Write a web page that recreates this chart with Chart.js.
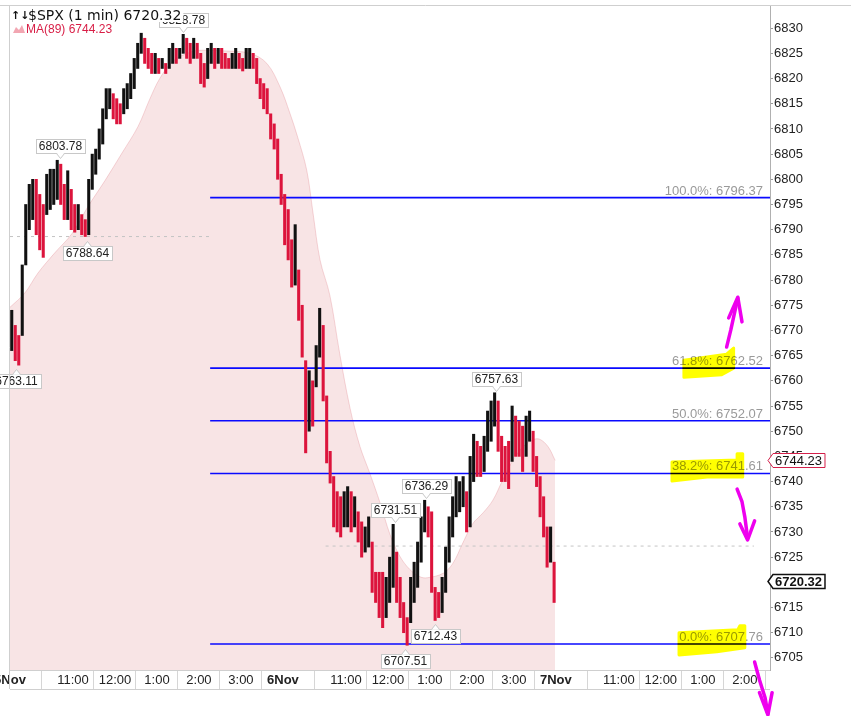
<!DOCTYPE html>
<html>
<head>
<meta charset="utf-8">
<script src="https://cdn.jsdelivr.net/npm/chart.js@4.4.1/dist/chart.umd.min.js"></script>
<style>
  html, body { margin: 0; padding: 0; background: #fff; }
  #wrap { width: 851px; height: 716px; position: relative; }
</style>
</head>
<body>
<div id="wrap"><canvas id="chart"></canvas></div>
<script>
// ─── Data (1-min $SPX, grouped into 5-minute bars) ─────────────────
const BUCKET = 5;
const highs = [
  6774, 6771, 6769, 6783, 6795, 6799, 6800, 6800, 6797, 6795,
  6801, 6802, 6802, 6803.78, 6803, 6799, 6801.7, 6798, 6795, 6795,
  6793, 6792, 6800, 6805, 6806, 6810, 6814, 6818, 6818, 6817,
  6816, 6815, 6818, 6819, 6821, 6824, 6827, 6829, 6828, 6826,
  6825, 6825, 6824, 6824, 6823, 6826, 6827, 6826, 6826, 6828.78,
  6828, 6827, 6828, 6827, 6825, 6823, 6826, 6827, 6826, 6826,
  6826, 6825, 6824, 6825, 6826, 6825, 6824, 6826, 6826, 6825,
  6824, 6820, 6819, 6818, 6813, 6811, 6808, 6801,
  6797, 6794, 6788, 6791, 6782, 6775, 6764, 6762, 6760, 6767,
  6774.4, 6771, 6757, 6746, 6741, 6738, 6737, 6738, 6739, 6738,
  6737, 6734, 6732, 6731, 6733, 6728, 6722, 6722, 6722, 6721,
  6725, 6731.51, 6726, 6721, 6716, 6713, 6721, 6724, 6728, 6733,
  6736.29, 6735, 6734, 6719, 6718, 6721, 6727, 6733, 6737, 6741,
  6740, 6741, 6738, 6745, 6749.4, 6748, 6747, 6749, 6754, 6756,
  6757.63, 6756, 6749, 6747, 6748, 6755, 6753, 6752, 6751, 6753,
  6754, 6750, 6745, 6741, 6737, 6731, 6731, 6724
];
const lows = [
  6766, 6764, 6763.11, 6769, 6783, 6790, 6792, 6789, 6786, 6784.5,
  6793, 6794, 6795, 6796, 6795, 6792, 6792, 6790, 6789.5, 6790,
  6789, 6788.64, 6789, 6798, 6801, 6804, 6807, 6812, 6814, 6812,
  6811, 6811, 6813, 6814, 6816, 6818, 6822, 6825, 6823, 6822,
  6821, 6821, 6821, 6822, 6821, 6822, 6823, 6823, 6824, 6825,
  6824, 6823, 6824, 6824, 6819, 6818.3, 6820, 6823, 6822, 6823,
  6822, 6822, 6822, 6822, 6822, 6822, 6821.5, 6822, 6822, 6822,
  6819, 6816, 6814, 6813, 6808, 6806, 6800, 6795,
  6787, 6784, 6778.6, 6779, 6772, 6764.7, 6745.7, 6750, 6751, 6758.8,
  6764.7, 6756, 6743.7, 6739.7, 6731, 6730, 6729, 6731, 6731, 6730,
  6731, 6728, 6725, 6726, 6727, 6718, 6716, 6713, 6711, 6713,
  6716, 6719, 6716, 6713, 6710, 6707.51, 6712, 6716, 6719, 6724,
  6730, 6729, 6718, 6712.43, 6713, 6714, 6718, 6724, 6729, 6733,
  6734, 6735, 6730, 6731, 6740, 6741, 6741, 6742, 6746, 6748,
  6751, 6746, 6740, 6740, 6738.6, 6744, 6745, 6745, 6742, 6745,
  6748, 6742, 6739, 6733, 6729, 6723, 6724, 6716
];
const lastClose = 6720.32;

const maTimes  = [0, 21, 40, 64, 89, 111, 136, 160, 183, 200, 214, 233, 257, 271, 304, 343, 367, 386, 400, 411,
                  424, 433, 443, 457, 471, 486, 500, 514, 529, 543, 557, 571, 586, 596, 619, 633, 647, 661, 676, 690,
                  704, 719, 733, 747, 757, 769, 779];
const maValues = [6774.6, 6777.4, 6781.4, 6785.4, 6789.3, 6794.5, 6799.8, 6805.2, 6810.5, 6816, 6820, 6823.5, 6825.2, 6825.6, 6825.5, 6825, 6823, 6818.3, 6813.1, 6808.4,
                  6801.8, 6793.3, 6784, 6777, 6765.5, 6754.5, 6747, 6741.7, 6735.7, 6729.5, 6725.2, 6722.6, 6721.1, 6720.9, 6721.8, 6723.8, 6727.8, 6731.6, 6733.8, 6736.3,
                  6740.3, 6744.3, 6746.9, 6748.3, 6748.4, 6746.9, 6744.2];
const maLast = 6744.23;

// Fibonacci retracement
const fibPct    = ['100.0%', '61.8%', '50.0%', '38.2%', '0.0%'];
const fibLevels = [6796.37, 6762.52, 6752.07, 6741.61, 6707.76];
const fibFrom   = 286;
const X_MAX     = 1086;

// dotted reference levels
const refLevels = [6788.64, 6727.2];
const refFrom   = [0, 451];
const refTo     = [286, 1063];

// labelled pivots
const pivotTimes  = [9, 71, 110, 247, 550, 564, 594, 607, 694];
const pivotPrices = [6763.11, 6803.78, 6788.64, 6828.78, 6731.51, 6707.51, 6736.29, 6712.43, 6757.63];
const pivotAbove  = [false, true, false, true, true, false, true, false, true];

// axes
const xTickMinutes = [0, 90, 150, 210, 270, 330, 390, 480, 540, 600, 660, 720, 780, 870, 930, 990, 1050];
const xTickLabels  = ['5Nov', '11:00', '12:00', '1:00', '2:00', '3:00', '6Nov', '11:00', '12:00', '1:00', '2:00', '3:00', '7Nov', '11:00', '12:00', '1:00', '2:00'];
const yTicks = [6705, 6710, 6715, 6720, 6725, 6730, 6735, 6740, 6745, 6750, 6755, 6760, 6765,
                6770, 6775, 6780, 6785, 6790, 6795, 6800, 6805, 6810, 6815, 6820, 6825, 6830];

// hand-drawn marks (minute, price)
const highlights = [
  [[963, 6764.1], [1024, 6765.3], [1034, 6766.5], [1034, 6762.5], [1017, 6761.2], [963, 6760.7]],
  [[946, 6743.9], [1039, 6744.3], [1039, 6745.5], [1047, 6745.5], [1047, 6740.9], [996, 6740.9], [946, 6740.1]],
  [[956, 6710.0], [1040, 6710.6], [1043, 6711.4], [1050, 6711.4], [1050, 6707.0], [1010, 6706.2], [956, 6705.6]]
];
const arrows = [
  { shaft: [[1024, 6766.7], [1030, 6770.1], [1035, 6773.3], [1040, 6776.4]], head: [[1027, 6772.5], [1040, 6776.6], [1046, 6771.7]] },
  { shaft: [[1039, 6738.5], [1046, 6736.0], [1050, 6733.0], [1054, 6728.8]], head: [[1043, 6731.6], [1054, 6728.4], [1064, 6732.2]] },
  { shaft: [[1064, 6704.2], [1071, 6700.6], [1079, 6697.1], [1083, 6693.9]], head: [[1071, 6698.1], [1083, 6693.7], [1089, 6698.1]] }
];

// ─── Styling ──────────────────────────────────────────────────────
const RED   = '#dc143c';
const FONT  = '"Liberation Sans", Arial, sans-serif';
const mids  = highs.map((h, i) => (h + lows[i]) / 2);
const barColors = mids.map((m, i) => (i > 0 && m < mids[i - 1]) ? RED : '#111');

const bars = highs.map((h, i) => ({ x: i * BUCKET + BUCKET / 2, y: [lows[i], h] }));
const maData = maTimes.map((t, i) => ({ x: t, y: maValues[i] }));

const fibSets = fibLevels.map(v => ({
  type: 'line', order: 1,
  data: [{ x: fibFrom, y: v }, { x: X_MAX, y: v }],
  borderColor: '#0a0aff', borderWidth: 1.6, pointRadius: 0
}));
const refSets = refLevels.map((v, i) => ({
  type: 'line', order: 2,
  data: [{ x: refFrom[i], y: v }, { x: refTo[i], y: v }],
  borderColor: '#c4c4c4', borderWidth: 1, borderDash: [3, 4], pointRadius: 0
}));

// ─── Overlay plugin: frame, labels, callouts, notes ───────────────
function callout(ctx, px, py, text, above) {
  ctx.font = '12px ' + FONT;
  const w = Math.round(ctx.measureText(text).width) + 6, h = 14;
  const bx = Math.round(px - w / 2) + 0.5;
  const by = above ? Math.round(py - 7 - h) + 0.5 : Math.round(py + 9) + 0.5;
  const ey = above ? by + h : by;
  const ty = above ? ey + 5 : ey - 5;
  ctx.lineWidth = 1;
  ctx.fillStyle = '#fff'; ctx.strokeStyle = '#c8c8c8';
  ctx.fillRect(bx, by, w, h); ctx.strokeRect(bx, by, w, h);
  ctx.beginPath(); ctx.moveTo(px - 4, ey); ctx.lineTo(px, ty); ctx.lineTo(px + 4, ey); ctx.fill(); ctx.stroke();
  ctx.fillRect(px - 3, above ? ey - 1 : ey, 6, 1.5);
  ctx.fillStyle = '#222'; ctx.textAlign = 'center'; ctx.textBaseline = 'middle';
  ctx.fillText(text, px, by + h / 2 + 0.5);
}

function priceTag(ctx, x, y, text, color, bold) {
  ctx.font = (bold ? 'bold ' : '') + '13px ' + FONT;
  const w = ctx.measureText(text).width + 5, h = 14;
  y = Math.round(y) + 0.5;
  ctx.beginPath();
  ctx.moveTo(x - 2, y); ctx.lineTo(x + 3, y - h / 2); ctx.lineTo(x + 3 + w, y - h / 2);
  ctx.lineTo(x + 3 + w, y + h / 2); ctx.lineTo(x + 3, y + h / 2); ctx.closePath();
  ctx.fillStyle = '#fff'; ctx.fill();
  ctx.lineWidth = bold ? 1.5 : 1; ctx.strokeStyle = color; ctx.stroke();
  ctx.fillStyle = '#111'; ctx.textAlign = 'left'; ctx.textBaseline = 'middle';
  ctx.fillText(text, x + 5, y + 0.5);
}

const overlay = {
  id: 'overlay',
  beforeDraw(chart) {
    const { ctx, width, height } = chart;
    ctx.save(); ctx.fillStyle = '#fff'; ctx.fillRect(0, 0, width, height); ctx.restore();
  },
  afterDatasetsDraw(chart) {
    const { ctx, chartArea: a, scales: { x, y } } = chart;
    ctx.save();
    // fib labels
    ctx.font = '13px ' + FONT; ctx.fillStyle = '#9a9a9a';
    ctx.textAlign = 'right'; ctx.textBaseline = 'alphabetic';
    fibLevels.forEach((v, i) => ctx.fillText(fibPct[i] + ': ' + v.toFixed(2), a.right - 7, y.getPixelForValue(v) - 3));
    // pivot callouts
    pivotTimes.forEach((t, i) => callout(ctx, Math.round(x.getPixelForValue(t)) + 0.5, y.getPixelForValue(pivotPrices[i]),
      pivotPrices[i].toFixed(2), pivotAbove[i]));
    ctx.restore();
  },
  afterDraw(chart) {
    const { ctx, chartArea: a, scales: { x, y }, width } = chart;
    ctx.save();
    // frame
    ctx.strokeStyle = '#cfcfcf'; ctx.lineWidth = 1;
    ctx.beginPath();
    ctx.moveTo(0, a.top - 0.5); ctx.lineTo(width, a.top - 0.5);
    ctx.moveTo(a.left - 0.5, a.top); ctx.lineTo(a.left - 0.5, a.bottom + 19);
    ctx.moveTo(a.left, a.bottom + 19.5); ctx.lineTo(a.right, a.bottom + 19.5);
    ctx.moveTo(a.left, a.bottom + 0.5); ctx.lineTo(a.right, a.bottom + 0.5);
    ctx.stroke();

    // title & legend
    ctx.font = '14px "DejaVu Sans", Verdana, sans-serif';
    const title = '$SPX (1 min) ' + lastClose.toFixed(2);
    const tw = ctx.measureText(title).width;
    ctx.fillStyle = '#fff'; ctx.fillRect(12, 8, tw + 18, 14);
    ctx.fillStyle = '#111'; ctx.textAlign = 'left'; ctx.textBaseline = 'alphabetic';
    ctx.fillText(title, 28, 20);
    ctx.font = 'bold 11px "DejaVu Sans", sans-serif';
    ctx.fillText('↑↓', 11, 19);
    ctx.fillStyle = '#f2a6b2';
    ctx.beginPath(); ctx.moveTo(13, 33); ctx.lineTo(16, 27); ctx.lineTo(19, 30); ctx.lineTo(22, 25); ctx.lineTo(25, 33); ctx.closePath(); ctx.fill();
    ctx.font = '12px ' + FONT; ctx.fillStyle = '#d81e46';
    ctx.fillText('MA(89) ' + maLast.toFixed(2), 26, 33);

    // axis price tags
    priceTag(ctx, a.right, y.getPixelForValue(maLast), maLast.toFixed(2), '#d4204a', false);
    priceTag(ctx, a.right, y.getPixelForValue(lastClose), lastClose.toFixed(2), '#111', true);

    // highlighter strokes
    const P = p => [x.getPixelForValue(p[0]), y.getPixelForValue(p[1])];
    ctx.globalCompositeOperation = 'multiply';
    ctx.fillStyle = '#ffff00'; ctx.strokeStyle = '#ffff00'; ctx.lineJoin = 'round'; ctx.lineWidth = 3;
    highlights.forEach(poly => {
      ctx.beginPath();
      poly.forEach((p, i) => { const [px, py] = P(p); i ? ctx.lineTo(px, py) : ctx.moveTo(px, py); });
      ctx.closePath(); ctx.fill(); ctx.stroke();
    });
    ctx.globalCompositeOperation = 'source-over';

    // pen arrows
    ctx.strokeStyle = '#ee00ee'; ctx.lineWidth = 3.5; ctx.lineCap = 'round'; ctx.lineJoin = 'round';
    arrows.forEach(ar => {
      [ar.shaft, ar.head].forEach(line => {
        ctx.beginPath();
        line.forEach((p, i) => { const [px, py] = P(p); i ? ctx.lineTo(px, py) : ctx.moveTo(px, py); });
        ctx.stroke();
      });
    });
    ctx.restore();
  }
};

// ─── Chart ────────────────────────────────────────────────────────
new Chart(document.getElementById('chart'), {
  type: 'bar',
  data: {
    datasets: [
      { type: 'bar', order: 0, data: bars, backgroundColor: barColors, borderWidth: 0, barThickness: 2.4, grouped: false },
      ...fibSets,
      ...refSets,
      { type: 'line', order: 3, data: maData, fill: 'start', backgroundColor: '#f8e4e5',
        borderColor: 'rgba(225,140,150,0.35)', borderWidth: 1, pointRadius: 0, tension: 0.35 }
    ]
  },
  options: {
    responsive: true, maintainAspectRatio: false, animation: false,
    layout: { padding: { left: 10, top: 6, right: 0, bottom: 0 } },
    plugins: { legend: { display: false }, tooltip: { enabled: false } },
    scales: {
      x: {
        type: 'linear', min: 0, max: X_MAX, offset: false,
        afterBuildTicks: s => { s.ticks = xTickMinutes.map(v => ({ value: v })); },
        afterFit: s => { s.height = 46; s.paddingLeft = 0; s.paddingRight = 0; },
        grid: { drawOnChartArea: false, drawTicks: true, tickLength: 19, tickColor: '#d6d6d6' },
        border: { display: false },
        ticks: {
          autoSkip: false, maxRotation: 0, padding: -16, color: '#222',
          callback: (v, i) => xTickLabels[i],
          font: c => ({ family: FONT, size: 13, weight: /Nov/.test(xTickLabels[c.index]) ? 'bold' : 'normal' })
        }
      },
      y: {
        position: 'right', min: 6702.6, max: 6834.4,
        afterBuildTicks: s => { s.ticks = yTicks.map(v => ({ value: v })); },
        afterFit: s => { s.width = 81; s.paddingTop = 0; s.paddingBottom = 0; },
        grid: { drawOnChartArea: false, drawTicks: true, tickLength: 3, tickColor: '#999' },
        border: { display: true, color: '#b0b0b0', dash: [1, 1] },
        ticks: { padding: 1, color: '#222', font: { family: FONT, size: 13 }, callback: v => String(v) }
      }
    }
  },
  plugins: [overlay]
});
</script>
</body>
</html>
